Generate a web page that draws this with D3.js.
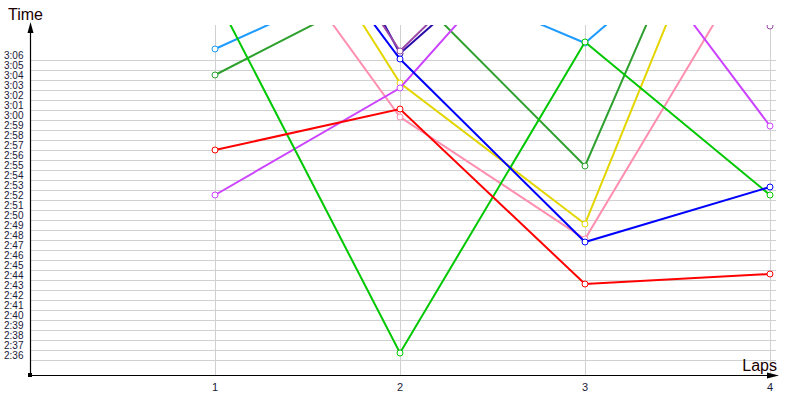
<!DOCTYPE html>
<html>
<head>
<meta charset="utf-8">
<script src="https://cdn.jsdelivr.net/npm/d3@7"></script>
<style>
  body { margin: 0; background: #fff; }
  text { font-family: "Liberation Sans", Arial, sans-serif; }
</style>
</head>
<body>
<div id="chart"></div>
<script>
'use strict';

// Laps on the x axis
var laps = [1, 2, 3, 4];

// Lap times in seconds, one array per runner (values above 3:09 run off the top)
var lightBlue = [187.1, 195.5, 187.7, 203.6];
var darkGreen = [184.5, 194.0, 175.4, 218.0];
var green     = [192.5, 156.7, 187.8, 172.5];
var red       = [177.0, 181.1, 163.6, 164.6];
var magenta   = [172.5, 183.2, 204.0, 179.4];
var yellow    = [212.9, 183.7, 169.6, 215.0];
var pink      = [205.8, 180.3, 168.1, 199.0];
var blue      = [210.8, 186.1, 167.8, 173.3];
var navy      = [221.0, 186.65, 203.0, 210.0];
var purple    = [215.0, 186.9, 205.0, 189.4];

var seriesList = [
  { values: navy,      color: '#2a0aa8' },
  { values: purple,    color: '#9a4aa6' },
  { values: lightBlue, color: '#1e9bff' },
  { values: darkGreen, color: '#2ea02e' },
  { values: yellow,    color: '#e3d600' },
  { values: pink,      color: '#ff8fb0' },
  { values: magenta,   color: '#cc44ff' },
  { values: green,     color: '#00c800' },
  { values: blue,      color: '#0000ff' },
  { values: red,       color: '#ff0000' }
];

// Tick values: every second from 2:36 to 3:06
var yTicks = d3.range(156, 187);

var width = 800, height = 400;
var svg = d3.select('#chart').append('svg')
  .attr('width', width)
  .attr('height', height);

var x = d3.scaleLinear().domain([0, 4]).range([30, 770]);
var y = d3.scaleLinear().domain([156, 186]).range([360, 60]);

function fmt(s) {
  var m = Math.floor(s / 60), r = Math.round(s - m * 60);
  return m + ':' + (r < 10 ? '0' : '') + r;
}

// Clip to plot area
svg.append('defs').append('clipPath').attr('id', 'plot-clip')
  .append('rect').attr('x', 30).attr('y', 25).attr('width', 748).attr('height', 350);

// Horizontal grid
svg.append('g')
  .selectAll('line')
  .data(yTicks)
  .join('line')
  .attr('x1', 31).attr('x2', 776)
  .attr('y1', function (d) { return Math.round(y(d)) + 0.5; })
  .attr('y2', function (d) { return Math.round(y(d)) + 0.5; })
  .attr('stroke', '#d0d0d0');

// Vertical grid
svg.append('g')
  .selectAll('line')
  .data(laps)
  .join('line')
  .attr('x1', function (d) { return Math.round(x(d)) + 0.5; })
  .attr('x2', function (d) { return Math.round(x(d)) + 0.5; })
  .attr('y1', 25).attr('y2', 375)
  .attr('stroke', '#d0d0d0');

// Y tick labels
svg.append('g')
  .selectAll('text')
  .data(yTicks)
  .join('text')
  .attr('x', 4)
  .attr('y', function (d) { return y(d) - 1; })
  .attr('font-size', 10)
  .attr('fill', '#1a1a3a')
  .text(fmt);

// X tick labels
svg.append('g')
  .selectAll('text')
  .data(laps)
  .join('text')
  .attr('x', function (d) { return x(d); })
  .attr('y', 391)
  .attr('text-anchor', 'middle')
  .attr('font-size', 11)
  .attr('fill', '#1a1a3a')
  .text(function (d) { return d; });

// Series
var plot = svg.append('g').attr('clip-path', 'url(#plot-clip)');
var line = d3.line()
  .x(function (d, i) { return x(laps[i]); })
  .y(function (d) { return y(d); });

seriesList.forEach(function (s) {
  var g = plot.append('g');
  g.append('path')
    .datum(s.values)
    .attr('d', line)
    .attr('fill', 'none')
    .attr('stroke', s.color)
    .attr('stroke-width', 2);
  g.selectAll('circle')
    .data(s.values)
    .join('circle')
    .attr('cx', function (d, i) { return x(laps[i]); })
    .attr('cy', function (d) { return y(d); })
    .attr('r', 3)
    .attr('fill', '#fff')
    .attr('stroke', s.color)
    .attr('stroke-width', 1);
});

// Axes with arrows
svg.append('line')
  .attr('x1', 30.5).attr('x2', 30.5).attr('y1', 375).attr('y2', 30)
  .attr('stroke', '#000').attr('stroke-width', 1.2);
svg.append('path')
  .attr('d', 'M30.5,22 L27.5,33 L33.5,33 Z')
  .attr('fill', '#000');
svg.append('line')
  .attr('x1', 30).attr('x2', 772).attr('y1', 375.5).attr('y2', 375.5)
  .attr('stroke', '#000').attr('stroke-width', 1.2);
svg.append('path')
  .attr('d', 'M779,375.5 L767,372.5 L767,378.5 Z')
  .attr('fill', '#000');
svg.append('rect')
  .attr('x', 28).attr('y', 373).attr('width', 4).attr('height', 4)
  .attr('fill', '#000');

// Axis titles
svg.append('text')
  .attr('x', 8).attr('y', 20)
  .attr('font-size', 16)
  .attr('fill', '#1a0000')
  .text('Time');
svg.append('text')
  .attr('x', 777).attr('y', 371)
  .attr('text-anchor', 'end')
  .attr('font-size', 16)
  .attr('fill', '#1a0000')
  .text('Laps');
</script>
</body>
</html>
